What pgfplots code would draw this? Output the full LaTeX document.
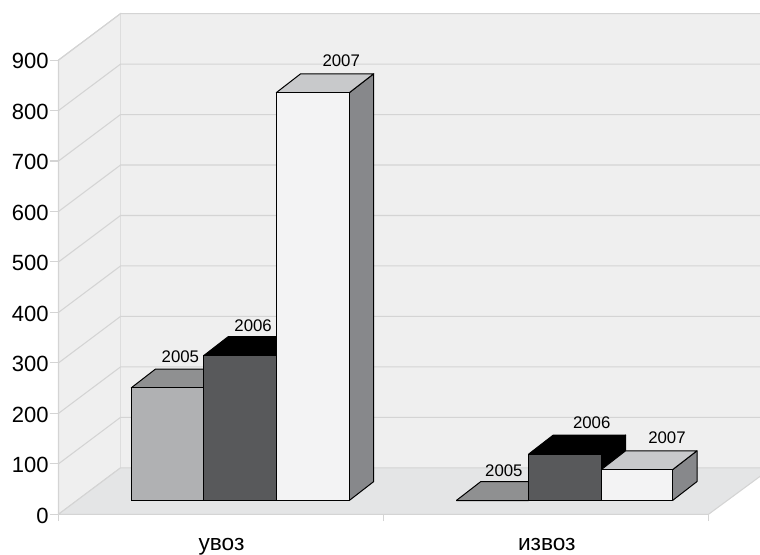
\documentclass[border=0pt]{standalone}
\usepackage{fontspec}
\setmainfont{Liberation Sans}
\usepackage{pgfplots}
\pgfplotsset{compat=1.18}
\definecolor{wall}{HTML}{EFEFEF}
\definecolor{floorc}{HTML}{E4E5E6}
\definecolor{gridc}{HTML}{D4D4D4}
\definecolor{fronta}{HTML}{B0B1B3}
\definecolor{topa}{HTML}{8F9091}
\definecolor{frontb}{HTML}{58595B}
\definecolor{frontc}{HTML}{F3F3F4}
\definecolor{topc}{HTML}{C8C9CB}
\definecolor{sidec}{HTML}{87888B}
% x is in picture pixels, y in chart units; bars stand 27.3 units in front of the floor edge
\newcommand{\boxbar}[6]{%
  \pgfmathsetmacro\ytop{27.3+#3}%
  \pgfmathsetmacro\yback{\ytop+37.6}%
  \pgfmathsetmacro\xbackl{#1+24.5}%
  \pgfmathsetmacro\xbackr{#2+24.5}%
  \addplot[barface,fill=#6] coordinates {(#2,27.3) (\xbackr,64.9) (\xbackr,\yback) (#2,\ytop) (#2,27.3)};
  \addplot[barface,fill=#5] coordinates {(#1,\ytop) (\xbackl,\yback) (\xbackr,\yback) (#2,\ytop) (#1,\ytop)};
  \addplot[barface,fill=#4] coordinates {(#1,27.3) (#1,\ytop) (#2,\ytop) (#2,27.3) (#1,27.3)};
}
\pgfplotsset{barface/.style={draw=black,line width=0.75pt,line join=round}}
\begin{document}
\begin{tikzpicture}
\useasboundingbox (-43.875pt,-29.775pt) rectangle (526.125pt,385.725pt);
\begin{axis}[
    scale only axis,
    width=487.5pt, height=340.67pt,
    xmin=58.5, xmax=708,
    ymin=0, ymax=900,
    clip=false,
    axis lines=left,
    axis line style={-,draw=gridc,line width=0.8pt},
    tick align=outside,
    tick style={draw=gridc,line width=0.8pt},
    major tick length=6.4pt,
    minor tick length=5.2pt,
    ytick={0,100,...,900},
    xtick={220.75,545.75},
    xticklabels={увоз,извоз},
    minor xtick={58.5,383.25,708},
    major x tick style={draw=none},
    /pgf/number format/assume math mode=true,
    tick label style={font=\fontsize{16.5}{16.5}\selectfont,text=black},
    xticklabel style={font=\fontsize{17}{17}\selectfont,inner sep=0pt,yshift=-11.5pt,xshift=0.5pt},
    yticklabel style={inner sep=0pt,xshift=-0.9pt,yshift=-0.9pt},
]
% walls and floor
\addplot[draw=gridc,fill=wall,line width=0.8pt] coordinates {(58.5,0) (120.5,92.1) (120.5,992.1) (58.5,900) (58.5,0)};
\addplot[draw=none,fill=wall] coordinates {(120.5,92.1) (120.5,992.1) (760,992.1) (760,92.1) (120.5,92.1)};
\addplot[draw=gridc,line width=0.8pt] coordinates {(120.5,992.1) (760,992.1)};
\addplot[draw=gridc,fill=floorc,line width=0.8pt] coordinates {(58.5,0) (120.5,92.1) (760,92.1) (760,75.9) (708,0) (58.5,0)};
% grid lines run up the side wall and along the back wall
\pgfplotsinvokeforeach{100,200,...,900}{
  \pgfmathsetmacro\yb{#1+92.1}
  \addplot[draw=gridc,line width=0.8pt] coordinates {(58.5,#1) (120.5,\yb) (760,\yb)};
}
% bars: left, right, value, front, top, side
\boxbar{131}{203.5}{223}{fronta}{topa}{sidec}
\boxbar{203.5}{276}{287}{frontb}{black}{black}
\boxbar{276}{349}{808}{frontc}{topc}{sidec}
\boxbar{456}{528.3}{0}{fronta}{topa}{sidec}
\boxbar{528.3}{600.7}{92}{frontb}{black}{black}
\boxbar{600.7}{672}{61}{frontc}{topc}{sidec}
% year labels
\begin{scope}[every node/.style={font=\fontsize{12.6}{12.6}\selectfont,inner sep=0pt}]
\node at (axis cs:180.3,313) {2005};
\node at (axis cs:253,373) {2006};
\node at (axis cs:341,899) {2007};
\node at (axis cs:503.5,86) {2005};
\node at (axis cs:591.3,180.5) {2006};
\node at (axis cs:666.5,152) {2007};
\end{scope}
\end{axis}
\end{tikzpicture}
\end{document}
